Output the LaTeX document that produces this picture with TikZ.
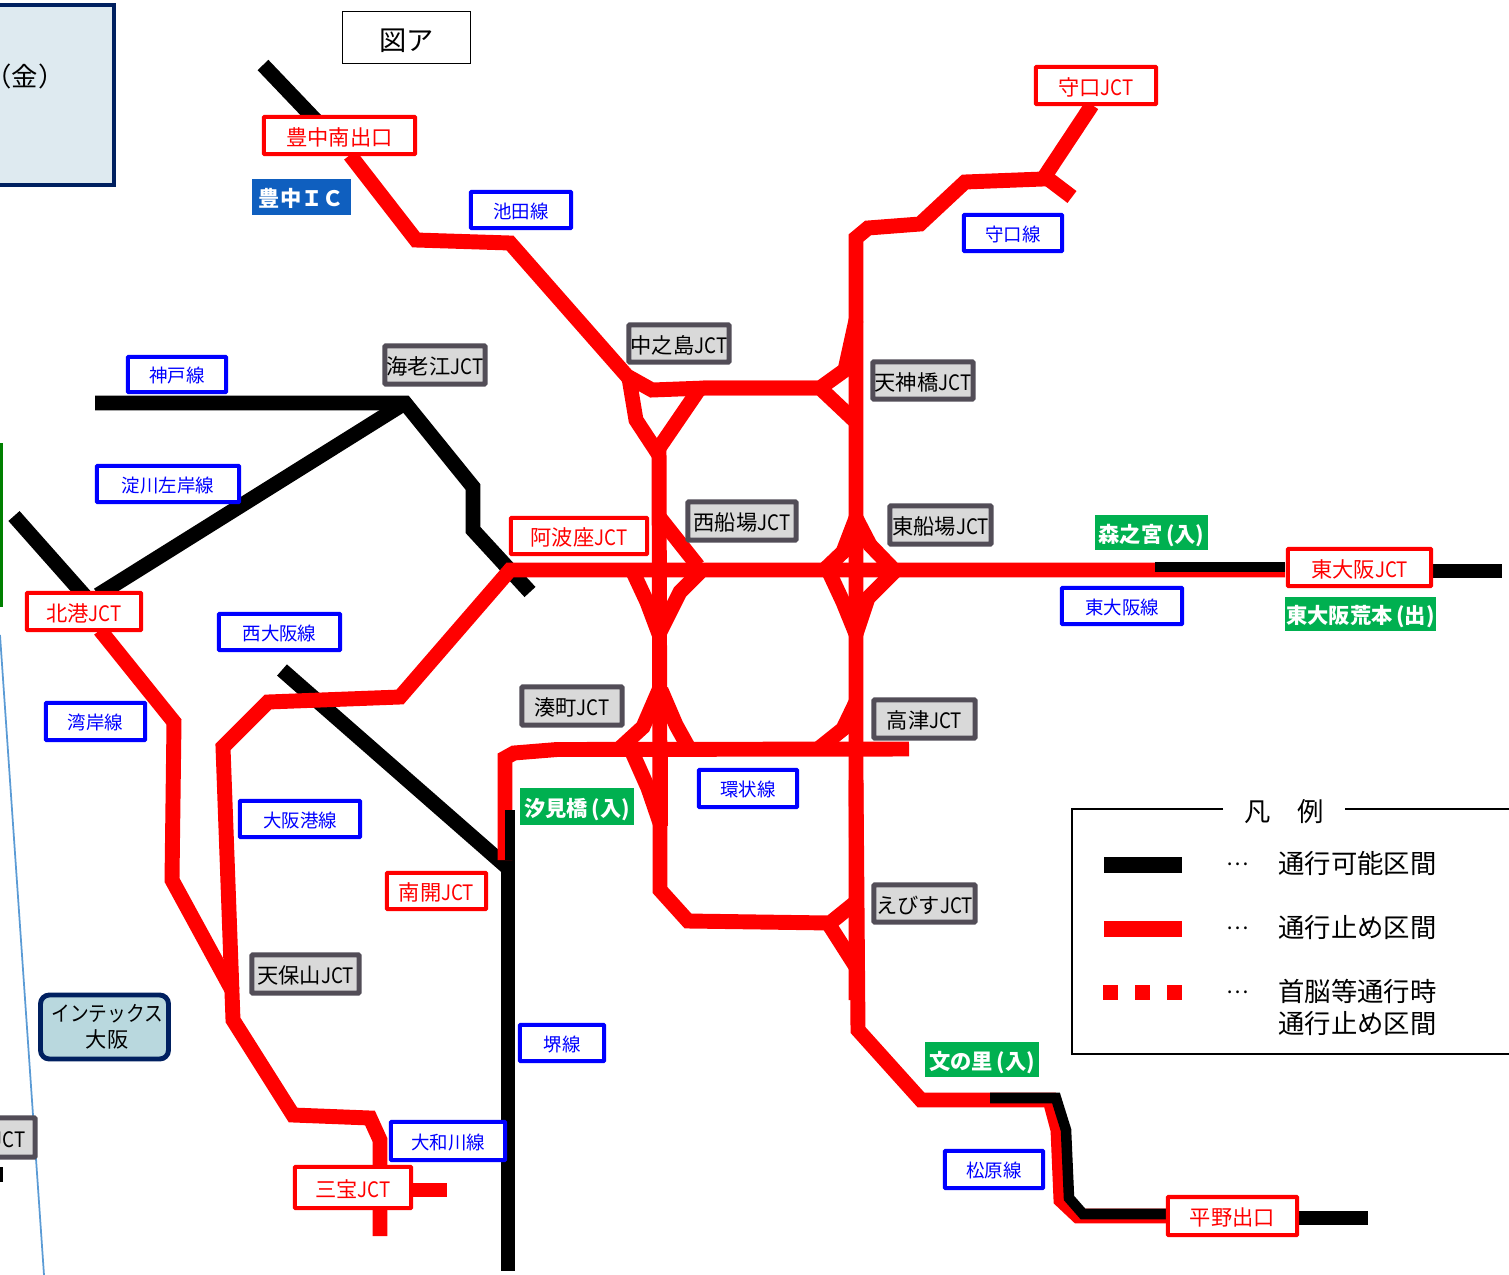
\documentclass[tikz,border=0pt]{standalone}
\usepackage{fontspec}
\setmainfont{Noto Sans CJK JP}
\newfontfamily\jctfont[FakeStretch=0.88]{Noto Sans CJK JP}
\newfontfamily\katafont[FakeStretch=0.88]{Noto Sans CJK JP}
\newcommand{\jct}{{\jctfont JCT}}
\definecolor{boxgray}{HTML}{D9D9D9}
\definecolor{boxedge}{HTML}{524D57}
\definecolor{navyedge}{HTML}{002060}
\definecolor{signgreen}{HTML}{00B050}
\definecolor{signblue}{HTML}{0F5FBF}
\definecolor{paleblue}{HTML}{DEEAF0}
\definecolor{intexblue}{HTML}{B9D8DE}
\definecolor{thinblue}{HTML}{5B9BD5}
\tikzset{
  road/.style={line width=8.5pt,line cap=butt,line join=miter,miter limit=3},
  redroad/.style={road,color=red},
  blackroad/.style={road,color=black},
  sized/.style 2 args={minimum width=#1*0.02cm-1pt,minimum height=#2*0.02cm-1pt,inner sep=0pt},
  bigtext/.style={font=\fontsize{12.1}{14}\selectfont,text height=12.6pt,text depth=1.44pt},
  smalltext/.style={font=\fontsize{10.5}{12}\selectfont,text height=10.9pt,text depth=1.26pt},
  jctred/.style 2 args={sized={#1}{#2},draw=red,fill=white,line width=2.4pt,text=red,bigtext,rounded corners=0.5pt},
  linebox/.style 2 args={sized={#1}{#2},draw=blue,fill=white,line width=2.4pt,text=blue,smalltext,rounded corners=0.5pt},
  jctgray/.style 2 args={sized={#1}{#2},draw=boxedge,fill=boxgray,line width=2.8pt,text=black,bigtext,rounded corners=0.5pt},
  entrygreen/.style 2 args={minimum width=#1*0.02cm,minimum height=#2*0.02cm,inner sep=0pt,fill=signgreen,text=white,bigtext,font=\fontsize{12.1}{14}\selectfont\bfseries},
}
\begin{document}
\begin{tikzpicture}[x=0.02cm,y=-0.02cm]
\useasboundingbox (0,0) rectangle (1509,1275);

\draw[color=thinblue,line width=1pt] (0,635) -- (44,1275);
\fill[color=green!50!black] (0,443) rectangle (3,607);
\fill[black] (0,1167) rectangle (3,1182);
\node[draw=navyedge,fill=paleblue,line width=2.4pt,minimum width=2.68cm,minimum height=3.6cm,inner sep=0pt] (kinbox) at (47,95) {};
\node[font=\fontsize{15}{18}\selectfont] (kin) at (25,76) {（金）};

\draw[blackroad] (263,65) -- (325,130);
\draw[blackroad] (95,403) -- (405,403) -- (473,487) -- (473,530) -- (530,592);
\draw[blackroad] (405,403) -- (98,595);
\draw[blackroad] (14,516) -- (92,604);
\draw[blackroad] (282,670) -- (508,868);
\draw[blackroad] (508,860) -- (508,1271);
\draw[blackroad] (1433,571) -- (1502,571);
\draw[blackroad] (1298,1218) -- (1368,1218);

\draw[redroad] (350,155) -- (416,240) -- (510,243) -- (627,376) -- (652,390) -- (705,388) -- (820,388) -- (845,370) -- (856,320);
\draw[redroad] (703,388) -- (820,388) -- (856,422);
\draw[redroad] (629,378) -- (636,420) -- (659,455);
\draw[redroad] (700,388) -- (659,448);
\draw[redroad] (659,445) -- (660,825) -- (660,890) -- (688,921) -- (830,923) -- (856,902);
\draw[redroad] (828,923) -- (858,970);
\draw[redroad] (856,1000) -- (856,238) -- (868,228) -- (920,224) -- (965,182) -- (1043,179) -- (1092,105);
\draw[redroad] (1043,175) -- (1072,197);
\draw[redroad] (856,780) -- (858,1030) -- (921,1100) -- (1050,1100) -- (1058,1130) -- (1061,1200) -- (1078,1216) -- (1170,1216);
\draw[redroad] (660,518) -- (698,566);
\draw[redroad] (633,572) -- (647,602) -- (659,634);
\draw[redroad] (700,572) -- (680,592) -- (659,634);
\draw[redroad] (822,572) -- (843,552) -- (856,518);
\draw[redroad] (856,518) -- (870,545) -- (896,572);
\draw[redroad] (829,572) -- (843,602) -- (856,634);
\draw[redroad] (896,570) -- (868,598) -- (856,634);
\draw[redroad] (1285,570) -- (510,570) -- (400,697) -- (268,702) -- (223,747) -- (233,1020) -- (293,1115) -- (370,1118) -- (380,1140) -- (380,1236);
\draw[redroad] (380,1190) -- (447,1190);
\draw[redroad] (100,630) -- (174,722) -- (172,880) -- (233,992);
\draw[redroad] (505,860) -- (505,758) -- (514,753) -- (557,749.5) -- (909,749);
\draw[redroad] (619,749) -- (643,727) -- (659,690);
\draw[redroad] (661,690) -- (676,725) -- (691,752);
\draw[redroad] (632,752) -- (648,788) -- (661,826);
\draw[redroad] (661,750) -- (661,826);
\draw[redroad] (818,749) -- (843,729) -- (856,702);

\draw[road,color=black,line width=5.5pt] (510,810) -- (510,860);
\draw[road,color=black,line width=5.5pt] (1155,567) -- (1285,567);
\draw[road,color=black,line width=6pt] (990,1098) -- (1056,1098) -- (1066,1130) -- (1069,1198) -- (1083,1214) -- (1170,1214);

\node[draw=black,line width=0.8pt,minimum width=2.56cm,minimum height=1.04cm,inner sep=0pt,font=\fontsize{15.5}{18}\selectfont,text height=17pt,text depth=1.9pt] (zua) at (406.5,37.5) {図ア};

\node[jctred={153}{39}] (toyonakaexit) at (339.5,135.5) {豊中南出口};
\node[jctred={122}{39}] (moriguchi) at (1096,85.5) {守口\jct};
\node[jctred={138}{38}] (awaza) at (579,536) {阿波座\jct};
\node[jctred={145}{39}] (higashiosaka) at (1359.5,567.5) {東大阪\jct};
\node[jctred={116}{39}] (kitako) at (84,611.5) {北港\jct};
\node[jctred={101}{38}] (nanko) at (436.5,891) {南開\jct};
\node[jctred={118}{43}] (sanpo) at (353,1187.5) {三宝\jct};
\node[jctred={131}{40}] (hiranoexit) at (1232.5,1216) {平野出口};

\node[linebox={102}{38}] (ikeda) at (521,210) {池田線};
\node[linebox={100}{38}] (moriguchiline) at (1013,233) {守口線};
\node[linebox={100}{37}] (kobe) at (177,374.5) {神戸線};
\node[linebox={144}{38}] (yodogawa) at (168,484) {淀川左岸線};
\node[linebox={123}{38}] (nishiosaka) at (279.5,632) {西大阪線};
\node[linebox={122}{38}] (higashiosakaline) at (1122,606) {東大阪線};
\node[linebox={101}{39}] (wangan) at (95.5,721.5) {湾岸線};
\node[linebox={100}{39}] (kanjo) at (748,788.5) {環状線};
\node[linebox={122}{38}] (osakako) at (300,819) {大阪港線};
\node[linebox={86}{38}] (sakai) at (562,1043) {堺線};
\node[linebox={116}{40}] (yamatogawa) at (448,1141) {大和川線};
\node[linebox={100}{39}] (matsubara) at (994,1169.5) {松原線};

\node[jctgray={102}{40}] (ebie) at (435,365) {海老江\jct};
\node[jctgray={102}{39}] (nakanoshima) at (679,343.5) {中之島\jct};
\node[jctgray={102}{39}] (tenjinbashi) at (923,380.5) {天神橋\jct};
\node[jctgray={110}{40}] (nishisenba) at (742,521) {西船場\jct};
\node[jctgray={103}{40}] (higashisenba) at (940.5,525) {東船場\jct};
\node[jctgray={102}{40}] (minatomachi) at (572,706) {湊町\jct};
\node[jctgray={103}{40}] (kozu) at (924.5,719) {高津\jct};
\node[jctgray={103}{39}] (ebisu) at (924.5,903.5) {えびす\jct};
\node[jctgray={109}{40}] (tempozan) at (305.5,974) {天保山\jct};
\node[jctgray={110}{41}] (cutjct) at (-19,1137.5) {\hspace*{32pt}\jct};

\node[entrygreen={113}{35}] (morinomiya) at (1151.5,532.5) {森之宮\,(入)};
\node[entrygreen={151}{34}] (aramoto) at (1360.5,614) {東大阪荒本\,(出)};
\node[entrygreen={114}{37}] (shiomibashi) at (577,806.5) {汐見橋\,(入)};
\node[entrygreen={114}{35}] (fuminosato) at (982,1059.5) {文の里\,(入)};
\node[entrygreen={99}{36},fill=signblue] (toyonakaic) at (301.5,197) {豊中ＩＣ};

\node[draw=navyedge,fill=intexblue,line width=2.8pt,rounded corners=5pt,minimum width=2.56cm,minimum height=1.28cm,inner sep=0pt,align=center] (intex) at (104.5,1027) {\hspace*{3pt}{\katafont\fontsize{12.1}{14}\selectfont インテックス}\\[2.5pt]\hspace*{3pt}{\fontsize{12.1}{14}\selectfont 大阪}};

\draw[line width=0.8pt] (1223,809) -- (1072,809) -- (1072,1054) -- (1509,1054);
\draw[line width=0.8pt] (1345,809) -- (1509,809);
\node[font=\fontsize{15}{18}\selectfont] (hanrei) at (1284,811.5) {凡　例};
\draw[road,color=black,line width=9pt] (1104,865) -- (1182,865);
\draw[redroad,line width=9pt] (1104,929) -- (1182,929);
\foreach \x in {1103,1135,1167}
  \fill[red] (\x,985) rectangle (\x+15,1000);
\foreach \y/\t in {864/通行可能区間,928/通行止め区間,991/首脳等通行時,1023/通行止め区間}
  \node[anchor=west,inner sep=0pt,font=\fontsize{15}{18}\selectfont] at (1278,\y) {\t};
\foreach \y in {864,928,992}
  \node[inner sep=0pt,font=\fontsize{12}{14}\selectfont] at (1238,\y) {…};
\end{tikzpicture}
\end{document}
